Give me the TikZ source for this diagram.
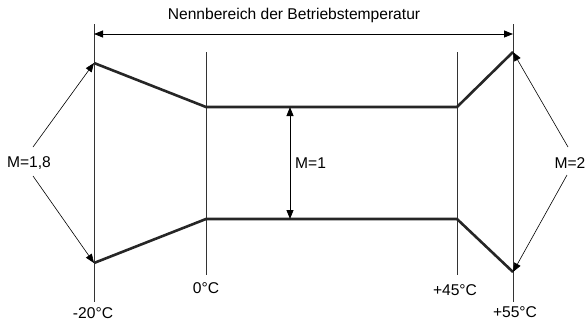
\documentclass[tikz,border=0pt]{standalone}
\usepackage{fontspec}
\setmainfont{Liberation Sans}
\usetikzlibrary{arrows.meta}
\begin{document}
\begin{tikzpicture}[x=1pt, y=-1pt, font=\fontsize{15.6}{18}\selectfont,
  tip/.style={-{Triangle[length=9pt,width=7pt]}},
  twotip/.style={{Triangle[length=9pt,width=7pt]}-{Triangle[length=9pt,width=7pt]}},
  guide/.style={line width=0.9pt, black!80},
  band/.style={line width=2.6pt, black!85, line join=miter}]
  \useasboundingbox (0,0) rectangle (586,322);

  % Temperature guides
  \draw[guide] (94,24) -- (94,302);
  \draw[guide] (206,52) -- (206,275);
  \draw[guide] (457,52) -- (457,275);
  \draw[guide] (513,24) -- (513,302);

  % Range arrow
  \coordinate (rl) at (94,34);
  \coordinate (rr) at (513,34);
  \draw[line width=0.8pt, twotip] (rl) -- (rr);
  \node (title) at (294,15) {Nennbereich der Betriebstemperatur};

  % Upper and lower limits
  \coordinate (A1) at (94,63);
  \coordinate (B1) at (206,107);
  \coordinate (C1) at (457,107);
  \coordinate (D1) at (513,52);
  \coordinate (A2) at (94,263);
  \coordinate (B2) at (206,219);
  \coordinate (C2) at (457,219);
  \coordinate (D2) at (513,272);
  \draw[band] (A1) -- (B1) -- (C1) -- (D1);
  \draw[band] (A2) -- (B2) -- (C2) -- (D2);

  % Factor M
  \coordinate (m1) at (290,107);
  \coordinate (m2) at (290,219);
  \draw[line width=0.8pt, twotip] (m1) -- (m2);
  \node[anchor=west, inner sep=2pt] (M1) at (293,163) {M=1};
  \node (Mleft) at (29,163) {M=1,8};
  \node (Mright) at (570,163) {M=2};
  \coordinate (ml1) at (33,147);
  \coordinate (ml2) at (33,176);
  \coordinate (mr1) at (568,147);
  \coordinate (mr2) at (567,175);
  \draw[tip, line width=0.6pt] (ml1) -- (A1);
  \draw[tip, line width=0.6pt] (ml2) -- (A2);
  \draw[tip, line width=0.6pt] (mr1) -- (D1);
  \draw[tip, line width=0.6pt] (mr2) -- (D2);

  % Labels
  \node (tL) at (93,313) {-20°C};
  \node (tZ) at (206,288) {0°C};
  \node (tF) at (455,290) {+45°C};
  \node (tR) at (515,312) {+55°C};
\end{tikzpicture}
\end{document}
